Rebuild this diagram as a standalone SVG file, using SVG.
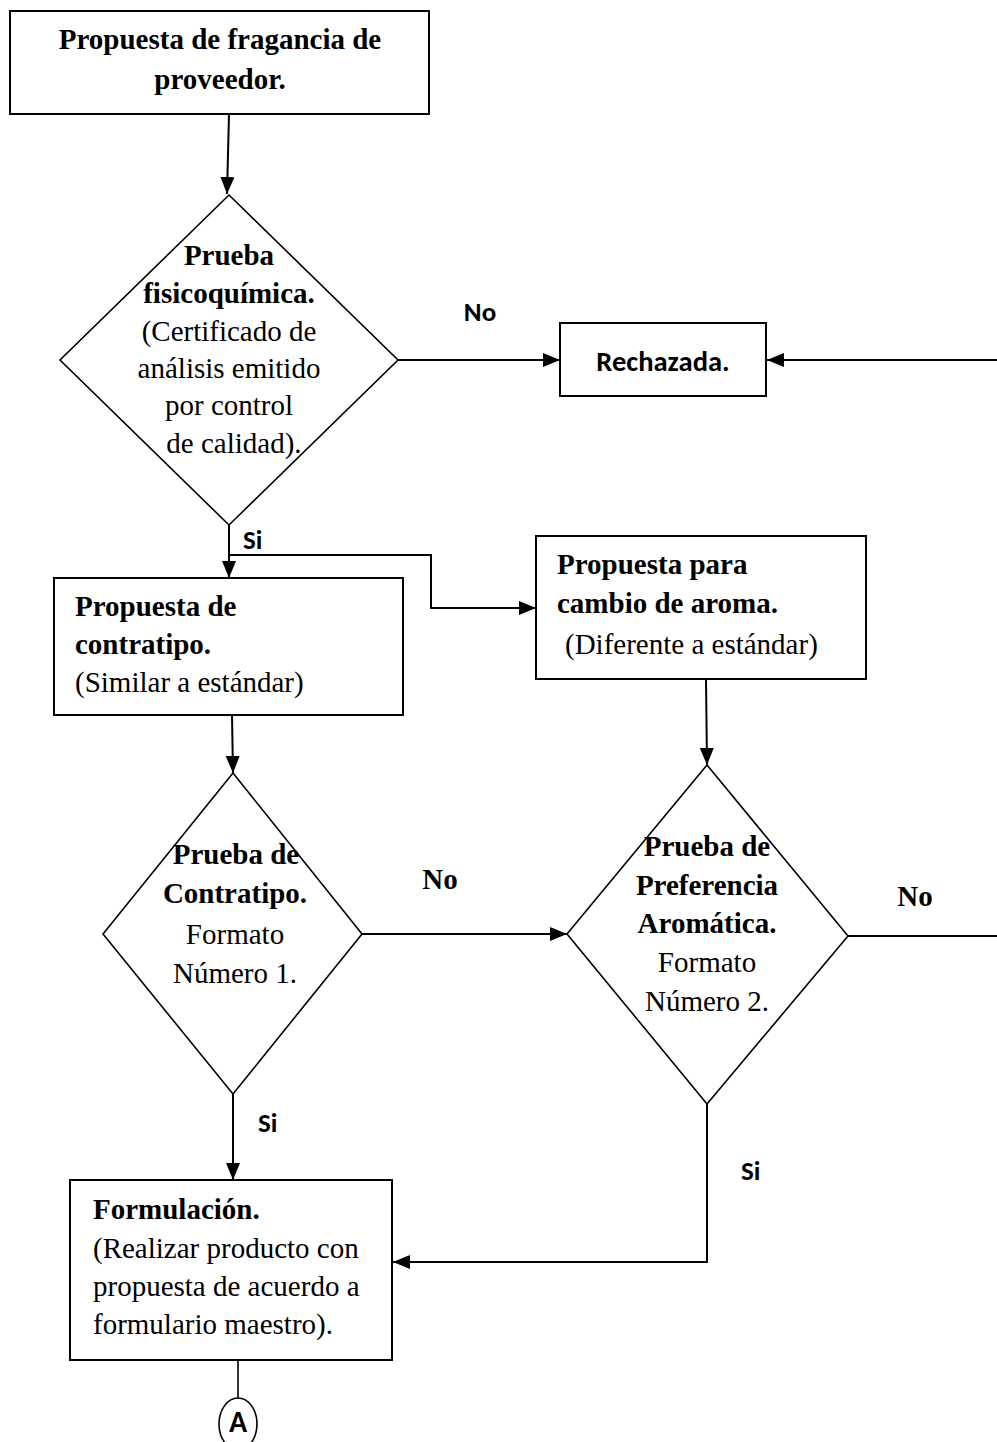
<svg xmlns="http://www.w3.org/2000/svg" width="997" height="1442" viewBox="0 0 997 1442">
<style>
.box{fill:#fff;stroke:#000;stroke-width:2}
.dia{fill:#fff;stroke:#000;stroke-width:1.6}
.ln{fill:none;stroke:#000;stroke-width:2}
.sb{font-family:"Liberation Serif","Times New Roman",serif;font-weight:bold;font-size:29px;fill:#000}
.sr{font-family:"Liberation Serif","Times New Roman",serif;font-size:29px;fill:#000}
.cb{font-family:Carlito,Lato,"Liberation Sans",sans-serif;font-weight:bold;font-size:27px;fill:#000}
.c{text-anchor:middle}
</style>
<defs>
<marker id="ah" markerUnits="userSpaceOnUse" markerWidth="19" markerHeight="15" refX="17" refY="7" orient="auto">
<path d="M0,0 L17,7 L0,14 Z" fill="#000"/>
</marker>
</defs>
<g id="connectors">
<line class="ln" x1="229" y1="114" x2="227" y2="194" marker-end="url(#ah)"/>
<line class="ln" x1="398" y1="360" x2="560" y2="360" marker-end="url(#ah)"/>
<line class="ln" x1="997" y1="360" x2="767" y2="360" marker-end="url(#ah)"/>
<line class="ln" x1="229" y1="525" x2="229" y2="578" marker-end="url(#ah)"/>
<polyline class="ln" points="230,555 431,555 431,608 536,608" marker-end="url(#ah)"/>
<line class="ln" x1="232" y1="715" x2="233" y2="773" marker-end="url(#ah)"/>
<line class="ln" x1="706" y1="679" x2="707" y2="765" marker-end="url(#ah)"/>
<line class="ln" x1="362" y1="934" x2="567" y2="934" marker-end="url(#ah)"/>
<line class="ln" x1="848" y1="936" x2="997" y2="936"/>
<line class="ln" x1="233" y1="1094" x2="233" y2="1180" marker-end="url(#ah)"/>
<polyline class="ln" points="707,1104 707,1262 393,1262" marker-end="url(#ah)"/>
<line class="ln" x1="238" y1="1360" x2="238" y2="1398" style="stroke-width:1.6"/>
<text class="cb c" x="480" y="321">No</text>
<text class="cb" x="243" y="549">Si</text>
<text class="sb c" x="440" y="889">No</text>
<text class="sb c" x="915" y="906">No</text>
<text class="cb" x="258" y="1132">Si</text>
<text class="cb" x="741" y="1180">Si</text>
</g>
<g id="n1">
<rect class="box" x="10" y="11" width="419" height="103"/>
<text class="sb c" x="220" y="49">Propuesta de fragancia de</text>
<text class="sb c" x="220" y="89">proveedor.</text>
</g>
<g id="n2">
<polygon class="dia" points="229,195 398,360 229,525 60,360"/>
<text class="sb c" x="229" y="265">Prueba</text>
<text class="sb c" x="229" y="303">fisicoquímica.</text>
<text class="sr c" x="229" y="341">(Certificado de</text>
<text class="sr c" x="229" y="378">análisis emitido</text>
<text class="sr c" x="229" y="415">por control</text>
<text class="sr c" x="234" y="453">de calidad).</text>
</g>
<g id="n3">
<rect class="box" x="560" y="323" width="206" height="73"/>
<text class="cb c" x="663" y="371" style="font-size:28.5px">Rechazada.</text>
</g>
<g id="n4">
<rect class="box" x="54" y="578" width="349" height="137"/>
<text class="sb" x="75" y="616">Propuesta de</text>
<text class="sb" x="75" y="654">contratipo.</text>
<text class="sr" x="75" y="692">(Similar a estándar)</text>
</g>
<g id="n5">
<rect class="box" x="536" y="536" width="330" height="143"/>
<text class="sb" x="557" y="574">Propuesta para</text>
<text class="sb" x="557" y="613">cambio de aroma.</text>
<text class="sr" x="565" y="654">(Diferente a estándar)</text>
</g>
<g id="n6">
<polygon class="dia" points="233,773 362,934 233,1094 103,934"/>
<text class="sb c" x="236" y="864">Prueba de</text>
<text class="sb c" x="235" y="903">Contratipo.</text>
<text class="sr c" x="235" y="944">Formato</text>
<text class="sr c" x="235" y="983">Número 1.</text>
</g>
<g id="n7">
<polygon class="dia" points="707,765 848,936 707,1104 567,934"/>
<text class="sb c" x="707" y="856">Prueba de</text>
<text class="sb c" x="707" y="895">Preferencia</text>
<text class="sb c" x="707" y="933">Aromática.</text>
<text class="sr c" x="707" y="972">Formato</text>
<text class="sr c" x="707" y="1011">Número 2.</text>
</g>
<g id="n8">
<rect class="box" x="70" y="1180" width="322" height="180"/>
<text class="sb" x="93" y="1219">Formulación.</text>
<text class="sr" x="93" y="1258">(Realizar producto con</text>
<text class="sr" x="93" y="1296">propuesta de acuerdo a</text>
<text class="sr" x="93" y="1334">formulario maestro).</text>
</g>
<g id="n9">
<ellipse cx="238" cy="1424" rx="19" ry="26" fill="#fff" stroke="#000" stroke-width="1.6"/>
<text class="cb c" x="238" y="1432" style="font-size:30px">A</text>
</g>
</svg>
